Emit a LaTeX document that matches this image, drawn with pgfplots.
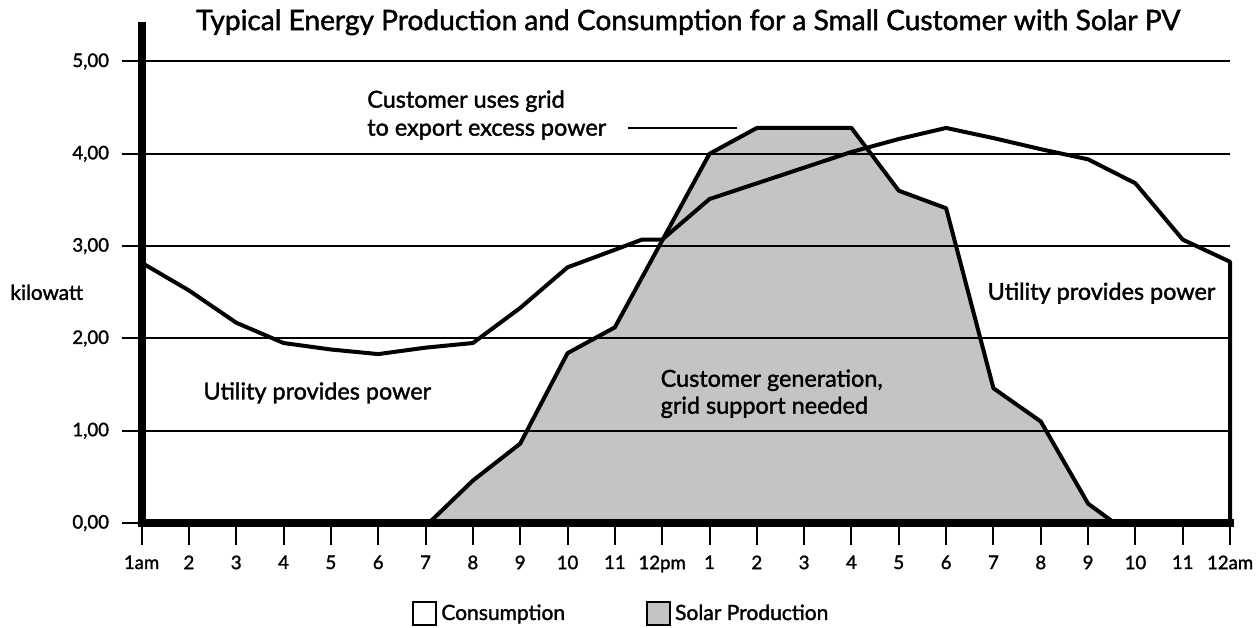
\documentclass[border=0pt]{standalone}
\usepackage{pgfplots}
\pgfplotsset{compat=1.18}
\usepackage{fontspec}
\setmainfont{Lato}[FakeBold=1.6]
\definecolor{solar}{RGB}{196,196,196}
\begin{document}
\begin{tikzpicture}
\begin{axis}[
  scale only axis,
  width=544.2pt, height=250.6pt,
  xmin=1, xmax=24, ymin=0, ymax=5.43,
  axis lines*=left,
  x axis line style={line width=4pt, line cap=rect},
  y axis line style={line width=4pt},
  axis on top,
  clip=false,
  ymajorgrids,
  major grid style={line width=1pt, black},
  ytick={0,1,2,3,4,5},
  yticklabels={{0,00},{1,00},{2,00},{3,00},{4,00},{5,00}},
  xtick={1,...,24},
  xticklabels={1am,2,3,4,5,6,7,8,9,10,11,12pm,1,2,3,4,5,6,7,8,9,10,11,12am},
  tick align=outside,
  xtick style={/pgfplots/major tick length=11pt, line width=1pt, black},
  ytick style={/pgfplots/major tick length=10pt, line width=1pt, black},
  ticklabel style={font=\fontsize{9.3}{10}\selectfont},
  yticklabel style={xshift=-8.5pt},
  xticklabel style={yshift=-8.5pt},
  legend columns=2,
  legend style={draw=none, fill=none, inner sep=0pt, anchor=west,
    at={(axis description cs:0.2484,-0.181)},
    font=\fontsize{10.5}{12}\selectfont,
    /tikz/every even column/.append style={column sep=38.5pt}},
  legend cell align=left,
]
\addplot[fill=solar, draw=black, line width=2pt, line join=round, forget plot] coordinates {
(7.07,0) (8,0.46) (9,0.86) (10,1.84) (11,2.12) (12,3.06) (13,4.00) (14,4.28) (15,4.28) (16,4.28)
(17,3.60) (18,3.41) (19,1.46) (20,1.10) (21,0.21) (21.56,0)} \closedcycle;
\addplot[draw=black, line width=2pt, line join=round, forget plot] coordinates {
(1,2.82) (2,2.52) (3,2.17) (4,1.95) (5,1.88) (6,1.83) (7,1.90) (8,1.95) (9,2.33) (10,2.77)
(11,2.96) (11.57,3.07) (12,3.07) (13,3.51) (14,3.68) (15,3.85) (16,4.02) (17,4.16) (18,4.28)
(19,4.17) (20,4.05) (21,3.94) (22,3.68) (23,3.07) (24,2.83) (24,0)};
\addplot[draw=black, line width=1pt, forget plot] coordinates {(11.28,4.28) (13.59,4.28)};
\addlegendimage{legend image code/.code={\draw[line width=1pt, fill=white] (0pt,-5.5pt) rectangle (11.5pt,6pt);}}
\addlegendentry{Consumption}
\addlegendimage{legend image code/.code={\draw[line width=1pt, fill=solar] (0pt,-5.5pt) rectangle (11.5pt,6pt);}}
\addlegendentry{Solar Production}
\node[anchor=base, font=\fontsize{14.05}{16}\selectfont] at (axis cs:12.55,5.34) {Typical Energy Production and Consumption for a Small Customer with Solar PV};
\node[anchor=west, font=\fontsize{10.4}{12}\selectfont, inner sep=0pt] at (axis cs:-1.78,2.50) {kilowatt};
\node[anchor=west, align=left, inner sep=0pt, font=\fontsize{11.7}{14}\selectfont] at (axis cs:5.76,4.42) {Customer uses grid\\to export excess power};
\node[anchor=west, align=left, inner sep=0pt, font=\fontsize{11.7}{13.5}\selectfont] at (axis cs:11.96,1.40) {Customer generation,\\grid support needed};
\node[anchor=west, inner sep=0pt, font=\fontsize{11.7}{13}\selectfont] at (axis cs:2.30,1.41) {Utility provides power};
\node[anchor=west, inner sep=0pt, font=\fontsize{11.7}{13}\selectfont] at (axis cs:18.87,2.49) {Utility provides power};
\coordinate (bl) at (axis cs:-1.992,-1.127);
\coordinate (tr) at (axis cs:24.59,5.666);
\end{axis}
\pgfresetboundingbox
\path[use as bounding box] (bl) rectangle (tr);
\end{tikzpicture}
\end{document}
